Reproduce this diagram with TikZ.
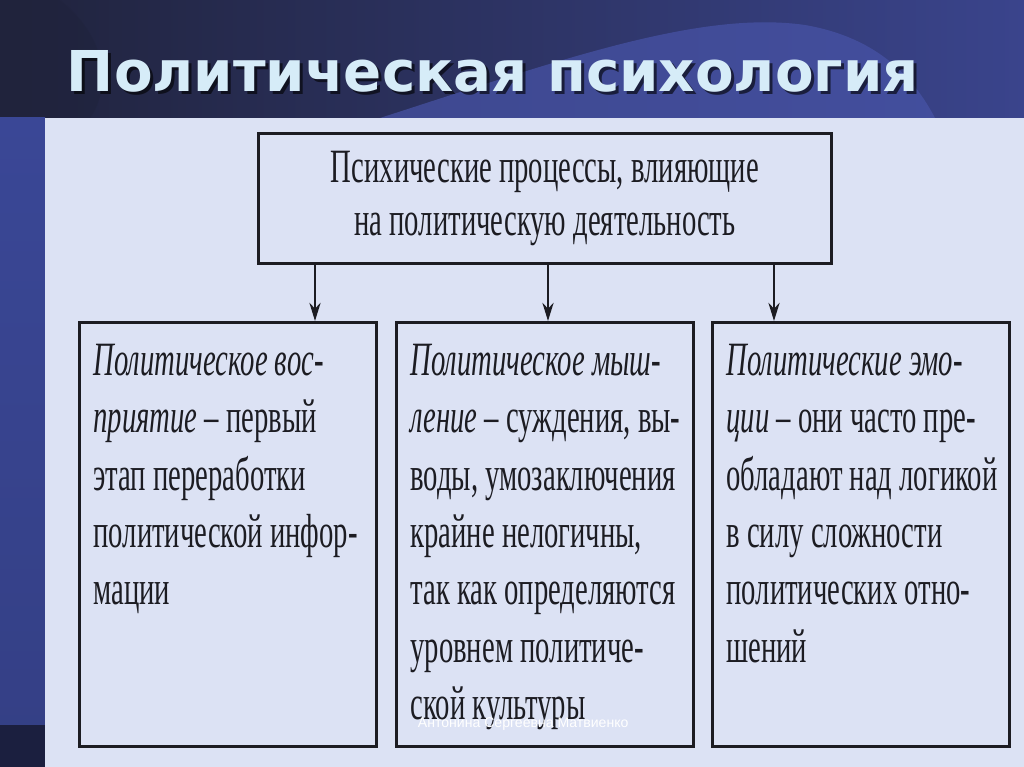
\documentclass[tikz,border=0pt]{standalone}
\usepackage{fontspec}
\setmainfont{Liberation Serif}
\newfontfamily\boxfont{Liberation Serif}[FakeStretch=0.6]
\newfontfamily\headfont{DejaVu Sans}
\newfontfamily\signfont{Liberation Sans}
\usetikzlibrary{arrows.meta,positioning}

\newlength\pix
\setlength\pix{0.025cm}

\definecolor{panel}{RGB}{220,226,244}
\definecolor{ink}{RGB}{28,28,34}
\definecolor{navy}{RGB}{30,34,70}
\definecolor{bandleft}{RGB}{32,35,60}
\definecolor{bandright}{RGB}{58,68,140}
\definecolor{hump}{RGB}{72,84,168}
\definecolor{stripblue}{RGB}{58,71,150}
\definecolor{titlefg}{RGB}{214,236,248}

% text of one column box, first baseline 53px under the top
\newcommand\colbox[1]{\makebox[269\pix][l]{\parbox[c][424\pix][t]{340\pix}{\raggedright\rule{0pt}{53\pix}#1}}}

\begin{document}
\begin{tikzpicture}[x=0.025cm, y=-0.025cm,
    box/.style={draw=ink, line width=2pt, fill=panel, inner sep=0pt, text=ink},
    colnode/.style={box, anchor=north west, inner xsep=14\pix, inner ysep=0pt,
      minimum width=297\pix, font=\boxfont\fontsize{34}{40.8}\selectfont},
    link/.style={ink, line width=1.3pt, -{Stealth[length=13pt, width=8pt]}}]
  \useasboundingbox (0,0) rectangle (1024,767);

  % background of the slide
  \fill[navy] (0,0) rectangle (1024,767);
  \shade[left color=bandleft, right color=bandright] (0,0) rectangle (1024,118);
  \fill[hump, opacity=0.7] (380,118) .. controls (560,60) and (700,10) .. (805,25)
    .. controls (880,38) and (915,80) .. (935,118) -- cycle;
  \fill[bandleft, opacity=0.5] (60,0) .. controls (110,40) and (110,90) .. (90,118) -- (0,118) -- (0,0) -- cycle;
  \shade[top color=stripblue, bottom color=stripblue!80!navy] (0,118) rectangle (45,725);
  \fill[navy!90!black] (0,725) rectangle (45,767);
  \fill[panel] (45,118) rectangle (1024,767);

  % title
  \node[anchor=base west, text=black, opacity=0.6, font=\headfont\bfseries\fontsize{40}{48}\selectfont]
    (titleshadow) at (65,95) {Политическая психология};
  \node[anchor=base west, text=titlefg, font=\headfont\bfseries\fontsize{40}{48}\selectfont]
    (title) at (62,92) {Политическая психология};

  % diagram
  \node[box, anchor=north west, minimum width=573\pix, minimum height=130\pix, align=center,
    font=\boxfont\fontsize{34}{37.7}\selectfont] (procs) at (257,132)
    {Психические процессы, влияющие\\на политическую деятельность};

  \node[colnode] (perc) at (78,321) {\colbox{\textit{Политическое вос-}\\
    \textit{приятие} – первый\\этап переработки\\политической инфор-\\мации}};
  \node[colnode] (think) at (395,321) {\colbox{\textit{Политическое мыш-}\\
    \textit{ление} – суждения, вы-\\воды, умозаключения\\крайне нелогичны,\\так как определяются\\уровнем политиче-\\ской культуры}};
  \node[colnode] (emot) at (711,321) {\colbox{\textit{Политические эмо-}\\
    \textit{ции} – они часто пре-\\обладают над логикой\\в силу сложности\\политических отно-\\шений}};

  \coordinate (a1) at (315,0);
  \coordinate (a2) at (548,0);
  \coordinate (a3) at (774,0);
  \foreach \c/\n in {a1/perc, a2/think, a3/emot}
    \draw[link] (procs.south -| \c) -- (\n.north -| \c);

  \node[anchor=base west, text=white, font=\signfont\fontsize{10}{12}\selectfont]
    (sign) at (413,727) {Антонина Сергеевна Матвиенко};
\end{tikzpicture}
\end{document}
